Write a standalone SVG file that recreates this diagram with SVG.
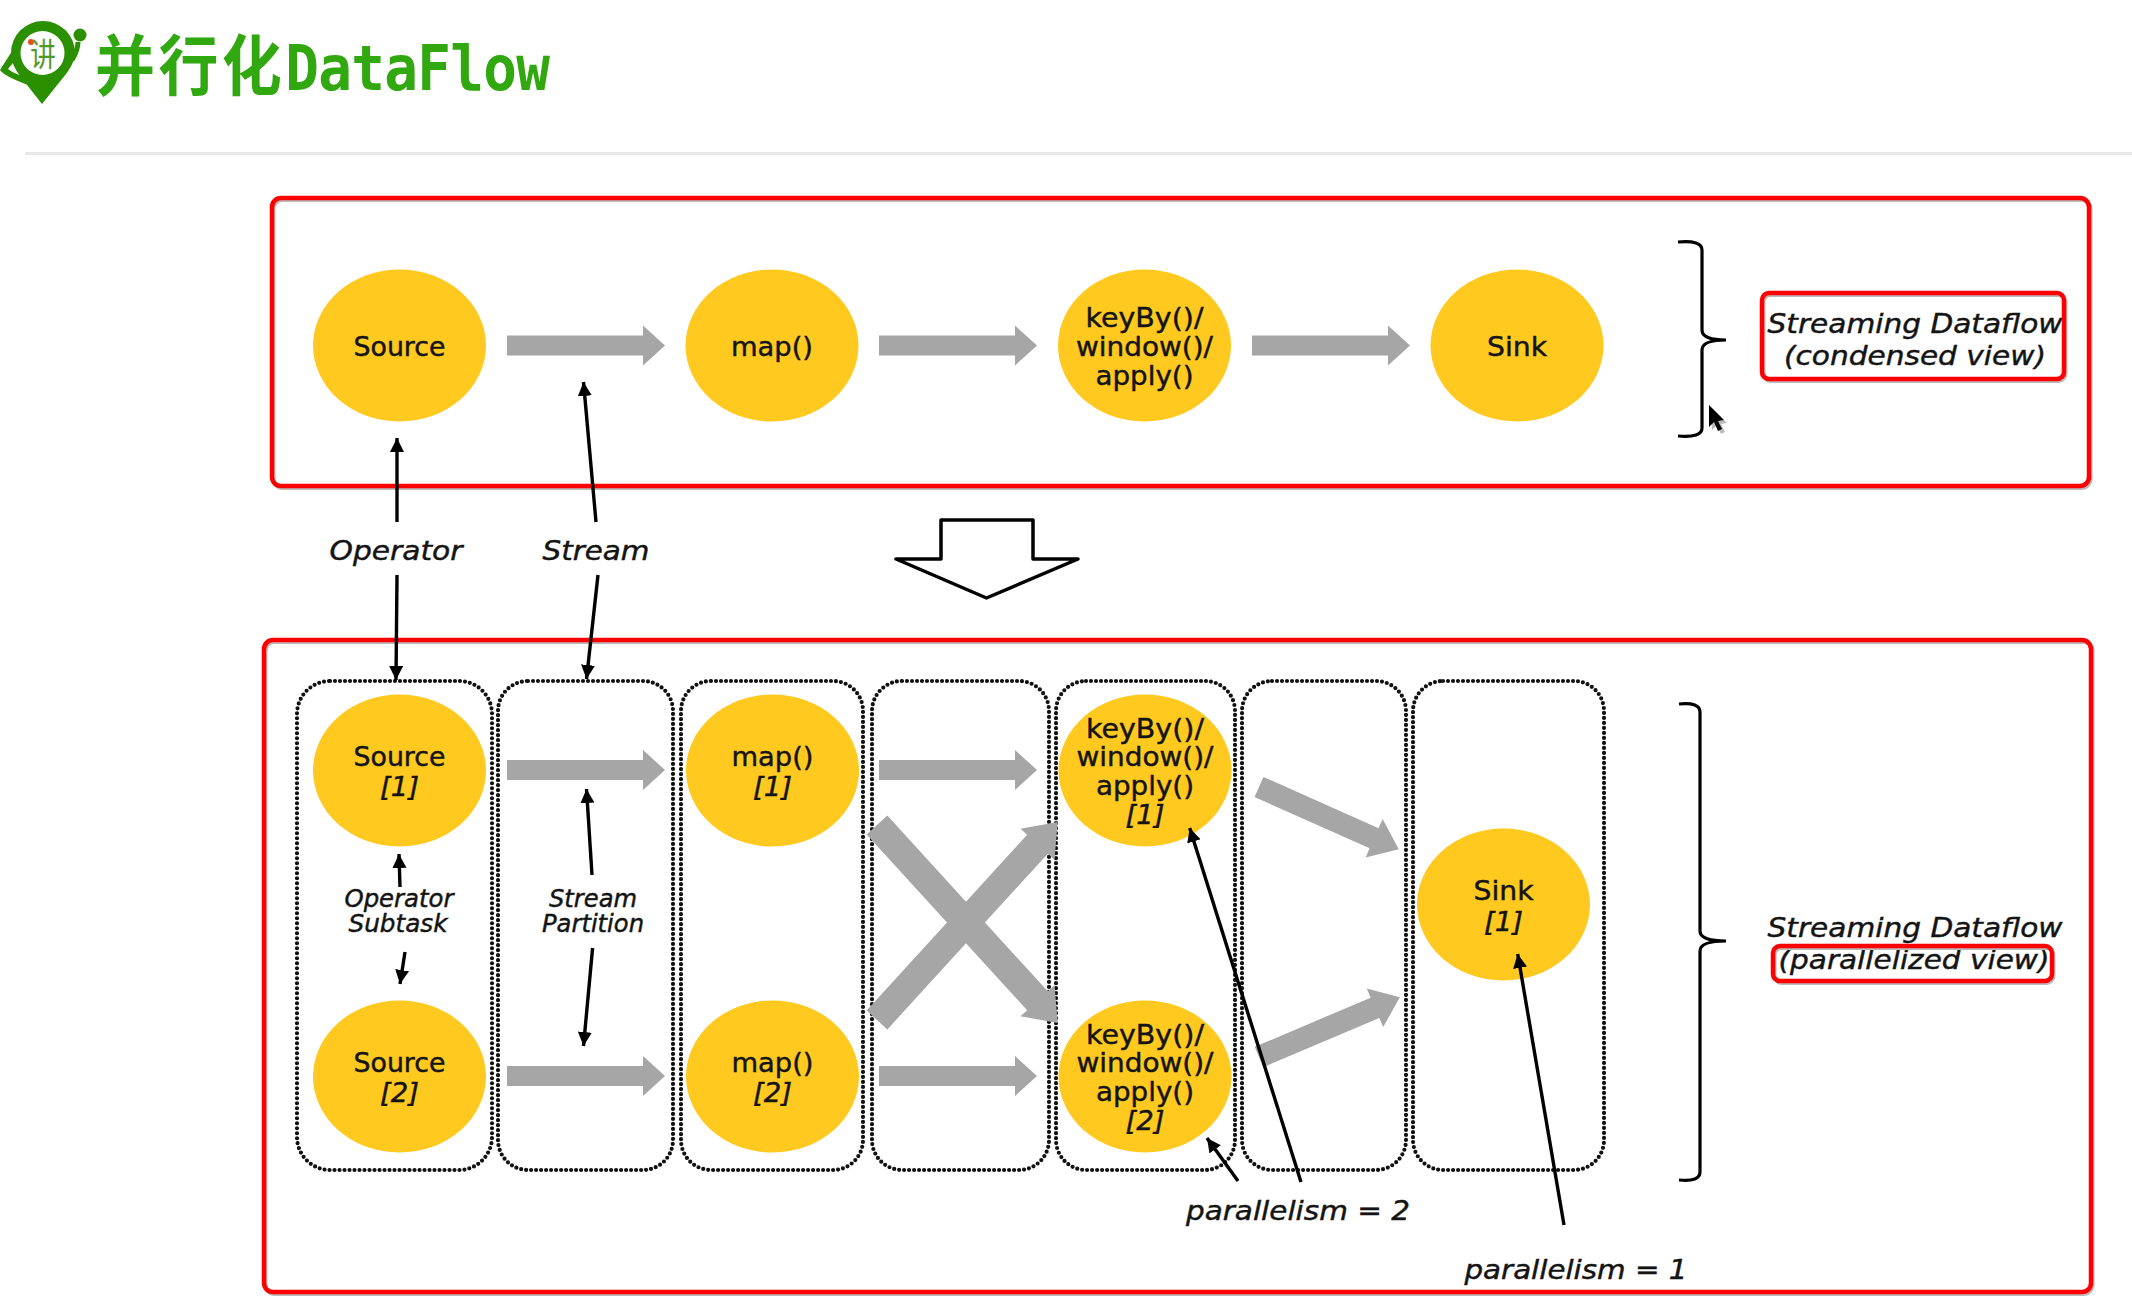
<svg xmlns="http://www.w3.org/2000/svg" width="2132" height="1310" viewBox="0 0 2132 1310">
<style>
text{font-family:"DejaVu Sans","Noto Sans CJK SC",sans-serif;fill:#141414;stroke:#141414;stroke-width:.45;text-anchor:middle;font-size:27px}
.i{font-style:italic}
.s{font-size:24px;font-style:italic}
.o{fill:#ffc91f}
.g{fill:#a6a6a6}
.r{fill:none;stroke:#f00;stroke-width:4.5}
.sh{fill:none;stroke:#bbb;stroke-width:4}
.d{fill:none;stroke:#111;stroke-width:4.2;stroke-linecap:round;stroke-dasharray:0 5}
.t{stroke:#000;stroke-width:3.4;fill:none;marker-end:url(#ah)}
.br{fill:none;stroke:#000;stroke-width:3.2}
</style>
<defs>
<marker id="ah" markerUnits="userSpaceOnUse" markerWidth="18" markerHeight="16" refX="14" refY="7" orient="auto"><path d="M0 0L14 7L0 14Z" fill="#000"/></marker>
<polygon id="ga" points="0,-10 136,-10 136,-20 158,0 136,20 136,10 0,10"/>
</defs>
<rect width="2132" height="1310" fill="#fff"/>

<g id="header">
<g id="logo">
<path d="M11 53A32 32 0 0 1 75 53C75 60 71 67 66 74L42 104L20 76C14 68 11 60 11 53Z" fill="#2a9000"/>
<path d="M14 48L0 70Q4 76 28 85L31 79Q14 74 8 69L17 58Z" fill="#2a9000"/>
<path d="M72 60Q78 50 78 42" stroke="#2a9000" stroke-width="5" fill="none"/>
<circle cx="80" cy="35" r="6.500" fill="#2a9000"/>
<circle cx="42.500" cy="53" r="22" fill="#fff"/>
<circle cx="31" cy="42" r="3" fill="#e8501a"/>
<text transform="translate(43 66) scale(.85 1.05)" style="font-size:30px;fill:#4f9a26;stroke:none;font-family:'Noto Sans CJK SC',sans-serif">讲</text>
</g>
<text id="title" transform="translate(95 90) scale(1 1.1)" style="text-anchor:start;fill:#31a80f;stroke:none;font-weight:700;font-family:'DejaVu Sans Mono','Noto Sans CJK SC',monospace;font-size:56px"><tspan style="font-size:60px;letter-spacing:3.4px;font-family:'Noto Sans CJK SC',sans-serif">并行化</tspan><tspan style="letter-spacing:-.7px">DataFlow</tspan></text>
<rect x="25" y="152" width="2107" height="3" fill="#e8e8e8"/>
</g>

<g id="frames">
<rect class="sh" x="273.500" y="200" width="1817" height="288" rx="9"/>
<rect class="r" x="272" y="198" width="1817" height="288" rx="9"/>
<rect class="sh" x="265.500" y="642" width="1827" height="652" rx="9"/>
<rect class="r" x="264" y="640" width="1827" height="652" rx="9"/>
</g>

<g id="groups">
<rect class="d" x="297" y="681" width="195" height="489" rx="33"/>
<rect class="d" x="498" y="681" width="175" height="489" rx="30"/>
<rect class="d" x="681" y="681" width="182" height="489" rx="30"/>
<rect class="d" x="872" y="681" width="177" height="489" rx="30"/>
<rect class="d" x="1056" y="681" width="179" height="489" rx="30"/>
<rect class="d" x="1242" y="681" width="164" height="489" rx="30"/>
<rect class="d" x="1413" y="681" width="191" height="489" rx="30"/>
</g>

<g id="big-arrow"><path d="M941 520H1033V559H1078L986.500 598L896 559H941Z" fill="#fff" stroke="#000" stroke-width="3.500" stroke-linejoin="round"/></g>

<g id="source"><ellipse class="o" cx="399.5" cy="345.5" rx="86.5" ry="76"/><text x="399.5" y="356" textLength="92" lengthAdjust="spacingAndGlyphs">Source</text></g>
<g id="map"><ellipse class="o" cx="772" cy="345.5" rx="86.5" ry="76"/><text x="772" y="356" textLength="82" lengthAdjust="spacingAndGlyphs">map()</text></g>
<g id="keyby"><ellipse class="o" cx="1144.5" cy="345.5" rx="86.5" ry="76"/><text x="1144.5" y="327" textLength="118" lengthAdjust="spacingAndGlyphs">keyBy()/</text><text x="1144.5" y="356" textLength="137" lengthAdjust="spacingAndGlyphs">window()/</text><text x="1144.5" y="385" textLength="98" lengthAdjust="spacingAndGlyphs">apply()</text></g>
<g id="sink"><ellipse class="o" cx="1517" cy="345.5" rx="86.5" ry="76"/><text x="1517" y="356" textLength="60" lengthAdjust="spacingAndGlyphs">Sink</text></g>

<g id="source1"><ellipse class="o" cx="399.5" cy="770.5" rx="86.5" ry="76"/><text x="399.5" y="766" textLength="92" lengthAdjust="spacingAndGlyphs">Source</text><text class="i" x="399.5" y="796" textLength="39" lengthAdjust="spacingAndGlyphs">[1]</text></g>
<g id="source2"><ellipse class="o" cx="399.5" cy="1076.5" rx="86.5" ry="76"/><text x="399.5" y="1072" textLength="92" lengthAdjust="spacingAndGlyphs">Source</text><text class="i" x="399.5" y="1102" textLength="39" lengthAdjust="spacingAndGlyphs">[2]</text></g>
<g id="map1"><ellipse class="o" cx="772.5" cy="770.5" rx="86.5" ry="76"/><text x="772.5" y="766" textLength="82" lengthAdjust="spacingAndGlyphs">map()</text><text class="i" x="772.5" y="796" textLength="39" lengthAdjust="spacingAndGlyphs">[1]</text></g>
<g id="map2"><ellipse class="o" cx="772.5" cy="1076.5" rx="86.5" ry="76"/><text x="772.5" y="1072" textLength="82" lengthAdjust="spacingAndGlyphs">map()</text><text class="i" x="772.5" y="1102" textLength="39" lengthAdjust="spacingAndGlyphs">[2]</text></g>
<g id="keyby1"><ellipse class="o" cx="1145" cy="770.5" rx="86.5" ry="76"/><text x="1145" y="738" textLength="118" lengthAdjust="spacingAndGlyphs">keyBy()/</text><text x="1145" y="766" textLength="137" lengthAdjust="spacingAndGlyphs">window()/</text><text x="1145" y="795" textLength="98" lengthAdjust="spacingAndGlyphs">apply()</text><text class="i" x="1145" y="824" textLength="39" lengthAdjust="spacingAndGlyphs">[1]</text></g>
<g id="keyby2"><ellipse class="o" cx="1145" cy="1076.5" rx="86.5" ry="76"/><text x="1145" y="1044" textLength="118" lengthAdjust="spacingAndGlyphs">keyBy()/</text><text x="1145" y="1072" textLength="137" lengthAdjust="spacingAndGlyphs">window()/</text><text x="1145" y="1101" textLength="98" lengthAdjust="spacingAndGlyphs">apply()</text><text class="i" x="1145" y="1130" textLength="39" lengthAdjust="spacingAndGlyphs">[2]</text></g>
<g id="sink1"><ellipse class="o" cx="1503.5" cy="904.5" rx="86.5" ry="76"/><text x="1503.5" y="900" textLength="60" lengthAdjust="spacingAndGlyphs">Sink</text><text class="i" x="1503.5" y="931" textLength="39" lengthAdjust="spacingAndGlyphs">[1]</text></g>

<g id="connectors">
<use href="#ga" class="g" x="507" y="345.5"/>
<use href="#ga" class="g" x="879" y="345.5"/>
<use href="#ga" class="g" x="1252" y="345.5"/>
<use href="#ga" class="g" x="507" y="770"/>
<use href="#ga" class="g" x="507" y="1076"/>
<use href="#ga" class="g" x="879" y="770"/>
<use href="#ga" class="g" x="879" y="1076"/>
<polygon class="g" transform="translate(877 825) rotate(47.6)" points="0,-14 238,-14 238,-23 268,0 238,23 238,14 0,14"/>
<polygon class="g" transform="translate(877 1020) rotate(-47.6)" points="0,-14 238,-14 238,-23 268,0 238,23 238,14 0,14"/>
<polygon class="g" transform="translate(1259 787) rotate(24)" points="0,-11 126,-11 126,-21 153,0 126,21 126,11 0,11"/>
<polygon class="g" transform="translate(1259 1057) rotate(-23)" points="0,-11 126,-11 126,-21 153,0 126,21 126,11 0,11"/>
<path class="t" d="M397 522L397 438"/>
<path class="t" d="M596 522L583.5 382"/>
<path class="t" d="M397 575L396 680"/>
<path class="t" d="M598 575L586.5 679"/>
<path class="t" d="M400 887L399 854"/>
<path class="t" d="M405 952L400 984"/>
<path class="t" d="M592 875L586.5 789"/>
<path class="t" d="M592.6 948L583.5 1046"/>
<path class="t" d="M1301 1182L1189.7 828"/>
<path class="t" d="M1238 1181L1207 1138"/>
<path class="t" d="M1564 1225L1517.7 954"/>
</g>

<g id="labels">
<text class="i" x="396" y="560" textLength="133" lengthAdjust="spacingAndGlyphs">Operator</text>
<text class="i" x="596" y="560" textLength="107" lengthAdjust="spacingAndGlyphs">Stream</text>
<text class="s" x="399" y="907" textLength="109" lengthAdjust="spacingAndGlyphs">Operator</text>
<text class="s" x="398" y="932" textLength="99" lengthAdjust="spacingAndGlyphs">Subtask</text>
<text class="s" x="593" y="907" textLength="88" lengthAdjust="spacingAndGlyphs">Stream</text>
<text class="s" x="593" y="932" textLength="102" lengthAdjust="spacingAndGlyphs">Partition</text>
<text class="i" x="1298" y="1220" textLength="224" lengthAdjust="spacingAndGlyphs">parallelism = 2</text>
<text class="i" x="1576" y="1279" textLength="223" lengthAdjust="spacingAndGlyphs">parallelism = 1</text>
<text class="i" x="1915" y="333" textLength="295" lengthAdjust="spacingAndGlyphs">Streaming Dataflow</text>
<text class="i" x="1915" y="365" textLength="262" lengthAdjust="spacingAndGlyphs">(condensed view)</text>
<text class="i" x="1915" y="937" textLength="295" lengthAdjust="spacingAndGlyphs">Streaming Dataflow</text>
<text class="i" x="1914" y="969" textLength="271" lengthAdjust="spacingAndGlyphs">(parallelized view)</text>
</g>

<g id="highlights">
<rect class="sh" x="1763.500" y="295" width="302" height="86" rx="7"/>
<rect class="r" x="1762" y="293" width="302" height="86" rx="7"/>
<rect class="sh" x="1774.500" y="948" width="279" height="35" rx="7"/>
<rect class="r" x="1773" y="946" width="279" height="35" rx="7"/>
</g>

<g id="braces">
<path class="br" d="M1678 242Q1702 240 1702 250V330Q1702 340 1726 340Q1702 340 1702 350V428Q1702 438 1678 436"/>
<path class="br" d="M1679 704Q1700 702 1700 712V931Q1700 941 1726 941Q1700 941 1700 951V1172Q1700 1182 1679 1180"/>
</g>

<g id="cursor">
<path d="M1712 408V430L1717 425L1721 434L1725 432L1721 424L1727 423Z" fill="#bbb"/>
<path d="M1709 405V427L1714 422L1718 431L1722 429L1718 421L1724 420Z" fill="#000"/>
</g>
</svg>
